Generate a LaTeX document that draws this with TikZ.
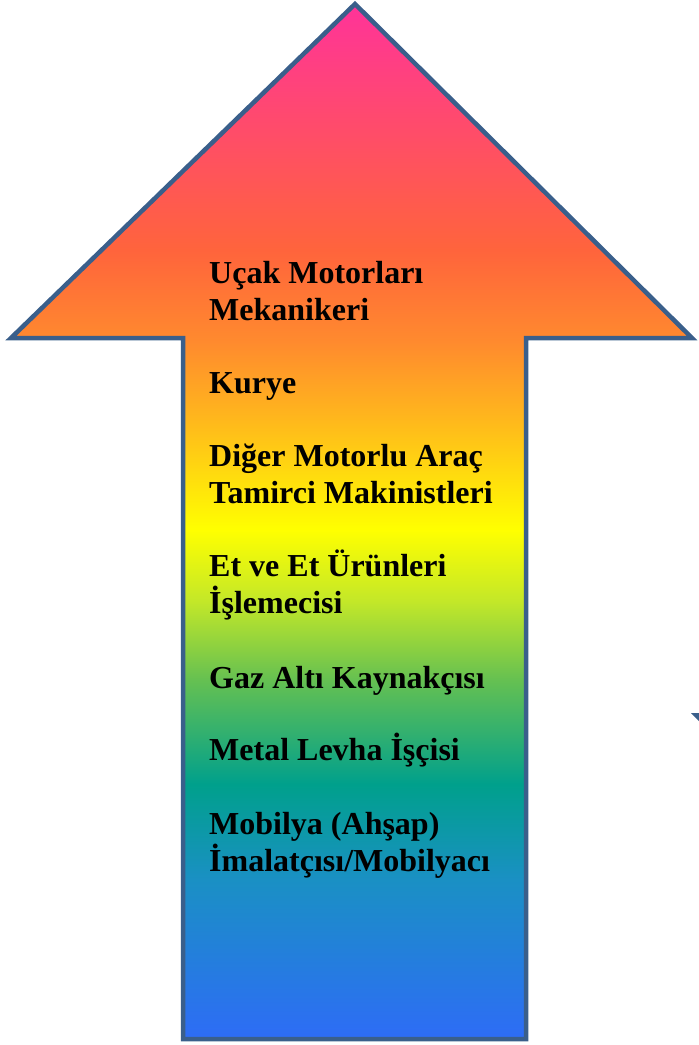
\documentclass[tikz,border=0pt]{standalone}
\usepackage{fontspec}
\setmainfont{Liberation Serif}
\definecolor{arrowline}{HTML}{3A5F8B}
\pgfdeclareverticalshading{rainbow}{100bp}{%
  color(0bp)=(blue!0!white);
  color(25bp)=({rgb,255:red,46;green,108;blue,246});
  color(32.7bp)=({rgb,255:red,26;green,144;blue,196});
  color(37.3bp)=({rgb,255:red,0;green,160;blue,140});
  color(42.3bp)=({rgb,255:red,100;green,192;blue,82});
  color(46.2bp)=({rgb,255:red,196;green,232;blue,40});
  color(49.6bp)=({rgb,255:red,255;green,255;blue,0});
  color(54.9bp)=({rgb,255:red,255;green,184;blue,28});
  color(58.7bp)=({rgb,255:red,255;green,138;blue,46});
  color(63.1bp)=({rgb,255:red,255;green,100;blue,60});
  color(75bp)=({rgb,255:red,255;green,51;blue,153});
  color(100bp)=({rgb,255:red,255;green,51;blue,153})}
\tikzset{
  bigarrow/.style={draw=arrowline, line width=4.5pt, line join=miter, shading=rainbow},
  job/.style={anchor=base west, align=left, font=\bfseries\fontsize{32}{37}\selectfont, inner sep=0pt}
}

\begin{document}
\begin{tikzpicture}[x=1pt, y=-1pt]
  \useasboundingbox (0,0) rectangle (699,1045);

  % the arrow
  \path[bigarrow] (355,4) -- (692,338) -- (526,338) -- (526,1039)
    -- (183,1039) -- (183,338) -- (11,338) -- cycle;
  \fill[arrowline] (691,713) -- (699,713) -- (699,721) -- cycle;

  % jobs (base = last line)
  \node[job] (ucak) at (209,320) {Uçak Motorları\\Mekanikeri};
  \node[job] (kurye) at (209,393) {Kurye};
  \node[job] (diger) at (209,503) {Diğer Motorlu Araç\\Tamirci Makinistleri};
  \node[job] (et) at (209,613) {Et ve Et Ürünleri\\İşlemecisi};
  \node[job] (gaz) at (209,688) {Gaz Altı Kaynakçısı};
  \node[job] (metal) at (209,760) {Metal Levha İşçisi};
  \node[job] (mobilya) at (209,871) {Mobilya (Ahşap)\\İmalatçısı/Mobilyacı};
\end{tikzpicture}
\end{document}
